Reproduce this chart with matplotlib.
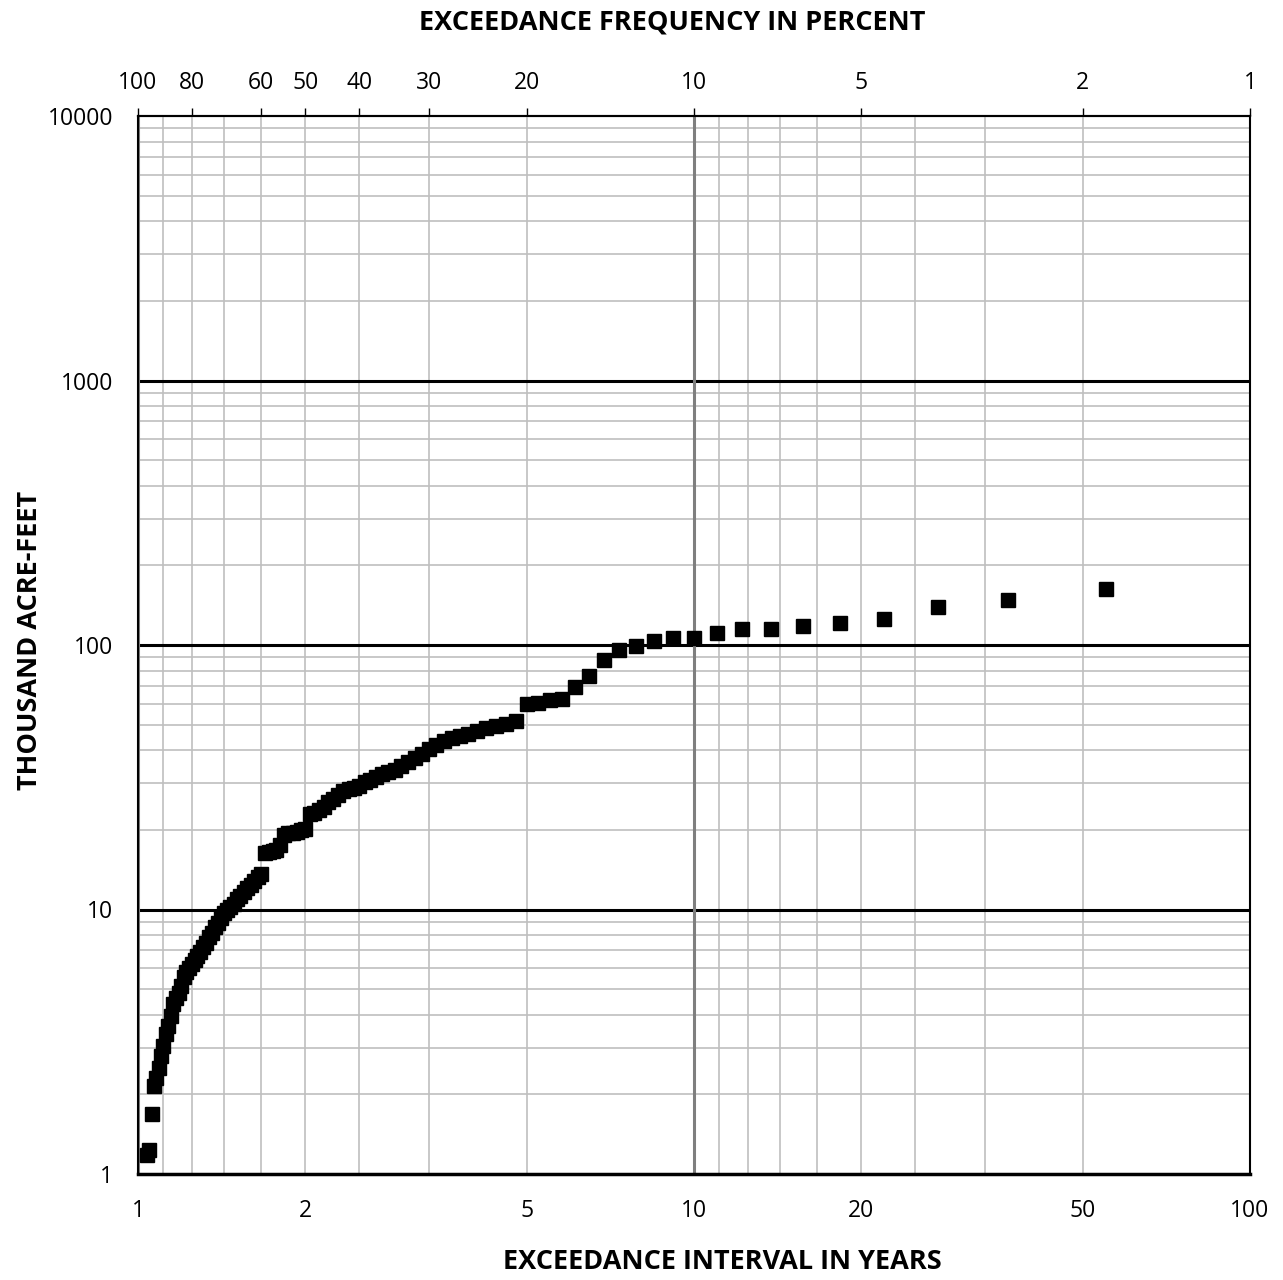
import numpy as np
import matplotlib
matplotlib.use("Agg")
import matplotlib.pyplot as plt
from matplotlib.ticker import NullLocator, NullFormatter

plt.rcParams['font.family'] = ['Open Sans', 'DejaVu Sans']

# record length (Weibull plotting position: interval = (n+1)/rank)
n_years = 109
# annual volumes in thousand acre-feet, ranks 2..106 (rank 1 and ranks > 106 are off the chart)
volume_taf = [163, 148, 139, 125, 121, 118, 115, 115, 111, 106.5,
              106, 103.5, 99, 95.7, 87.8, 76.4, 69.4, 62.5, 62, 60.3,
              59.8, 51.6, 50.3, 49.4, 48.5, 47.3, 46.1, 45.3, 44.5, 43.4,
              41.9, 40.5, 38.7, 37.3, 36.1, 34.9, 33.6, 33.1, 32.5, 31.8,
              30.9, 30.3, 29.3, 28.8, 28.6, 28.0, 27.0, 26.1, 25.5, 24.5,
              23.7, 23.2, 23.0, 20.2, 19.9, 19.7, 19.5, 19.5, 19.2, 17.5,
              16.8, 16.6, 16.5, 16.3, 13.6, 13.3, 12.8, 12.4, 12.05, 11.65,
              11.2, 10.95, 10.5, 10.2, 9.95, 9.7, 9.3, 8.9, 8.6, 8.15,
              7.85, 7.5, 7.2, 6.9, 6.67, 6.44, 6.23, 6.0, 5.8, 5.55,
              5.14, 4.83, 4.63, 4.39, 3.96, 3.63, 3.38, 3.05, 2.8, 2.52,
              2.31, 2.15, 1.69, 1.23, 1.18]
first_rank = 2

# axis ticks
interval_ticks = [1, 2, 5, 10, 20, 50, 100]
volume_ticks = [1, 10, 100, 1000, 10000]
percent_ticks = [100, 80, 60, 50, 40, 30, 20, 10, 5, 2, 1]
percent_grid = [90, 80, 70, 60, 50, 40, 30, 20, 9, 8, 7, 6, 5, 4, 3, 2]

ranks = np.arange(first_rank, first_rank + len(volume_taf))
interval = (n_years + 1) / ranks

fig = plt.figure(figsize=(12.83, 12.8), dpi=100)
ax = fig.add_axes([138 / 1283, 1 - 1174 / 1280, (1250 - 138) / 1283, (1174 - 116) / 1280])
ax.set_xscale('log')
ax.set_yscale('log')
ax.set_xlim(1, 100)
ax.set_ylim(1, 10000)

# horizontal grid
for dec in [1, 10, 100, 1000]:
    for k in range(2, 10):
        ax.axhline(dec * k, color='#bfbfbf', lw=1.2, zorder=1)
for v in [10, 100, 1000]:
    ax.axhline(v, color='black', lw=2.2, zorder=2)

# vertical grid at exceedance frequencies
for p in percent_grid:
    ax.axvline(100 / p, color='#bfbfbf', lw=1.2, zorder=1)
for p in [100, 10]:
    ax.axvline(100 / p, color='#7f7f7f', lw=2.2, zorder=2)

ax.plot(interval, volume_taf, 's', color='black', ms=10.5, zorder=5, clip_on=False)

ax.set_xticks(interval_ticks)
ax.set_xticklabels([str(t) for t in interval_ticks])
ax.xaxis.set_minor_locator(NullLocator())
ax.xaxis.set_minor_formatter(NullFormatter())
ax.set_yticks(volume_ticks)
ax.set_yticklabels([str(t) for t in volume_ticks])
ax.yaxis.set_minor_locator(NullLocator())
ax.tick_params(axis='both', length=0, labelsize=16.5, colors='black')
ax.tick_params(axis='x', pad=18)
ax.tick_params(axis='y', pad=18)

sec = ax.secondary_xaxis('top')
sec.set_xticks([100 / p for p in percent_ticks])
sec.set_xticklabels([str(p) for p in percent_ticks])
sec.xaxis.set_minor_locator(NullLocator())
sec.tick_params(length=6, width=1, labelsize=16.5, pad=9)
sec.spines['top'].set_linewidth(1.5)

for s in ['left', 'right', 'top']:
    ax.spines[s].set_linewidth(1.5)
ax.spines['bottom'].set_linewidth(2.5)

fig.text(672 / 1283, 1 - 23 / 1280, 'EXCEEDANCE FREQUENCY IN PERCENT', ha='center', va='center',
         fontsize=19.5, fontweight='bold')
fig.text(722 / 1283, 1 - 1262 / 1280, 'EXCEEDANCE INTERVAL IN YEARS', ha='center', va='center',
         fontsize=19.5, fontweight='bold')
fig.text(30 / 1283, 1 - 640 / 1280, 'THOUSAND ACRE-FEET', ha='center', va='center',
         rotation=90, fontsize=19.5, fontweight='bold')

fig.savefig('out.png', dpi=100)
